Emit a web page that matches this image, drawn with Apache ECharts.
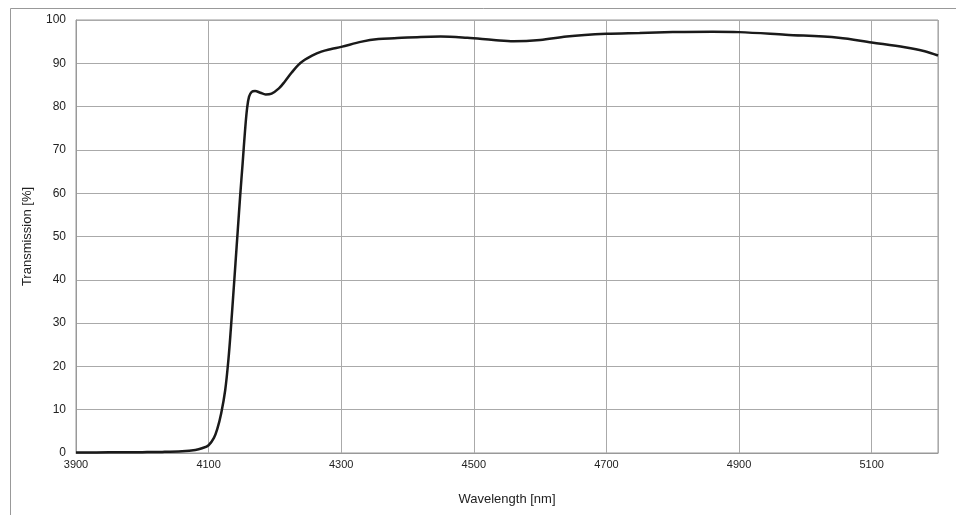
<!DOCTYPE html>
<html>
<head>
<meta charset="utf-8">
<script src="https://cdn.jsdelivr.net/npm/echarts@6/dist/echarts.min.js"></script>
<style>
  html, body { margin: 0; padding: 0; background: #fff; }
  #chart { width: 956px; height: 515px; }
</style>
</head>
<body>
<div id="chart"></div>
<script>
// wavelength [nm] and transmission [%]
var wavelength = [3900, 3950, 4000, 4030, 4060, 4080, 4090, 4100, 4108, 4113, 4119, 4125, 4130,
  4133.5, 4137, 4140.5, 4144, 4147.5, 4151.3, 4155, 4158, 4161, 4165, 4170, 4178, 4186, 4195, 4206,
  4215, 4225, 4235, 4245, 4256, 4270, 4285, 4300, 4331, 4356, 4380, 4420, 4450, 4490, 4530,
  4560, 4600, 4640, 4700, 4750, 4800, 4860, 4900, 4970, 5050, 5100, 5150, 5180, 5200];
var transmission = [0.1, 0.15, 0.2, 0.25, 0.4, 0.7, 1.1, 1.8, 3.5, 5.5, 9.2, 14.5, 21.8,
  28.6, 36.1, 43.8, 51.5, 59.2, 66.9, 74.6, 79.6, 82.3, 83.4, 83.6, 83.2, 82.8, 83.0, 84.2,
  85.8, 87.8, 89.6, 90.8, 91.8, 92.7, 93.3, 93.8, 95.0, 95.6, 95.8, 96.1, 96.2, 95.9, 95.4,
  95.1, 95.4, 96.2, 96.8, 97.0, 97.2, 97.3, 97.2, 96.6, 95.9, 94.8, 93.7, 92.8, 91.8];

var xTicks = [3900, 4100, 4300, 4500, 4700, 4900, 5100];
var xLines = xTicks.concat([5200]);

var points = wavelength.map(function (w, i) { return [w, transmission[i]]; });

var chart = echarts.init(document.getElementById('chart'));
var fontFamily = 'Liberation Sans, Arial, sans-serif';

chart.setOption({
  animation: false,
  backgroundColor: '#fff',
  graphic: [{
    type: 'rect',
    left: 8, top: 6,
    shape: { width: 1000, height: 600 },
    style: { fill: 'none', stroke: '#999', lineWidth: 1 }
  }],
  grid: {
    left: 76, top: 20, right: 18, bottom: 62,
    show: true, borderColor: '#999', borderWidth: 1
  },
  xAxis: {
    type: 'value',
    min: 3900, max: 5200,
    name: 'Wavelength [nm]',
    nameLocation: 'middle',
    nameGap: 40,
    nameTextStyle: { fontFamily: fontFamily, fontSize: 13, color: '#222' },
    axisLine: { show: true, lineStyle: { color: '#999' } },
    axisTick: { show: false, customValues: xLines },
    axisLabel: {
      margin: 6, customValues: xTicks,
      fontFamily: fontFamily, fontSize: 11, color: '#222',
      formatter: function (v) { return String(v); }
    },
    splitLine: { show: true, lineStyle: { color: '#aaa', width: 1 } }
  },
  yAxis: {
    type: 'value',
    min: 0, max: 100, interval: 10,
    name: 'Transmission [%]',
    nameLocation: 'middle',
    nameGap: 42,
    nameTextStyle: { fontFamily: fontFamily, fontSize: 13, color: '#222' },
    axisLine: { show: true, lineStyle: { color: '#999' } },
    axisTick: { show: false },
    axisLabel: { margin: 10, fontFamily: fontFamily, fontSize: 12, color: '#222' },
    splitLine: { show: true, lineStyle: { color: '#aaa', width: 1 } }
  },
  series: [{
    type: 'line',
    data: points,
    showSymbol: false,
    smooth: 0.35,
    lineStyle: { color: '#1a1a1a', width: 2.5 }
  }]
});
</script>
</body>
</html>
